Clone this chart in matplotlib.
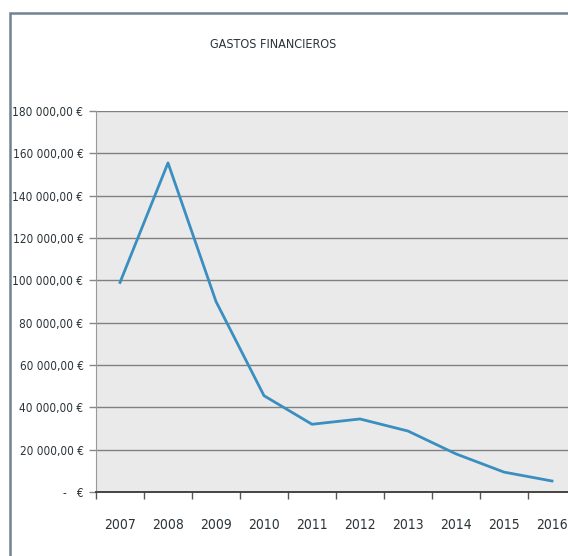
import matplotlib
matplotlib.use("Agg")
import matplotlib.pyplot as plt
from matplotlib import font_manager as fm
from matplotlib.patches import Rectangle
from matplotlib.ticker import FuncFormatter, FixedLocator

# yearly financial expenses
years = ["2007", "2008", "2009", "2010", "2011", "2012", "2013", "2014", "2015", "2016"]
gastos = [99000, 155500, 90000, 45500, 32000, 34500, 28800, 18000, 9400, 5200]
y_ticks = [0, 20000, 40000, 60000, 80000, 100000, 120000, 140000, 160000, 180000]

# look for a narrow sans face, the labels are very tight
narrow = None
for f in fm.fontManager.ttflist:
    n = f.fname.lower()
    if ("narrow" in n or "condensed" in n) and "bold" not in n and "oblique" not in n \
            and "italic" not in n and "mono" not in n and "serif" not in n:
        narrow = f.fname
        break

if narrow:
    lab_font = fm.FontProperties(fname=narrow)
else:
    lab_font = fm.FontProperties(family="DejaVu Sans")

def euro(v, pos):
    if v == 0:
        return "-   €"
    s = "{:,.2f}".format(v).replace(",", " ").replace(".", ",")
    return s + " €"

W, H = 568, 556
fig = plt.figure(figsize=(W / 100, H / 100), dpi=100)
fig.patch.set_facecolor("white")

# chart frame (cut off on the right and bottom)
frame = Rectangle((10 / W, -0.05), 1.2, 1 - 13 / H + 0.05, transform=fig.transFigure,
                  fill=False, edgecolor="#6f8391", linewidth=1.8, zorder=0)
fig.patches.append(frame)

ax = fig.add_axes([96 / W, 64 / H, 480 / W, 381 / H])
ax.set_facecolor("#eaeaea")

x = list(range(len(years)))
ax.plot(x, gastos, color="#3a8fc0", linewidth=2, solid_joinstyle="round", zorder=3)

ax.set_xlim(-0.5, len(years) - 0.5)
ax.set_ylim(0, 180000)
ax.yaxis.set_major_locator(FixedLocator(y_ticks))
ax.yaxis.set_major_formatter(FuncFormatter(euro))
ax.grid(axis="y", color="#808080", linewidth=1)
ax.set_axisbelow(True)

# category labels centred, tick marks between categories
ax.set_xticks(x)
ax.set_xticklabels(years)
ax.set_xticks([i - 0.5 for i in range(len(years) + 1)], minor=True)
ax.tick_params(axis="x", which="major", length=0, pad=19, labelcolor="#2b3338")
ax.tick_params(axis="x", which="minor", length=5, width=1, color="#555555")
ax.tick_params(axis="y", length=5, width=1, color="#888888", pad=4, labelcolor="#2b3338")

for lab in ax.get_xticklabels():
    lab.set_fontproperties(lab_font)
    lab.set_fontsize(10)
for lab in ax.get_yticklabels():
    lab.set_fontproperties(lab_font)
    lab.set_fontsize(8.5)

for side in ("top", "right"):
    ax.spines[side].set_visible(False)
ax.spines["left"].set_color("#999999")
ax.spines["bottom"].set_color("#444444")
ax.spines["bottom"].set_linewidth(1.4)

fig.text(273 / W, 1 - 44 / H, "GASTOS FINANCIEROS", ha="center", va="center",
         fontproperties=lab_font, fontsize=9, color="#2b3338")

fig.savefig("out.png", dpi=100)
